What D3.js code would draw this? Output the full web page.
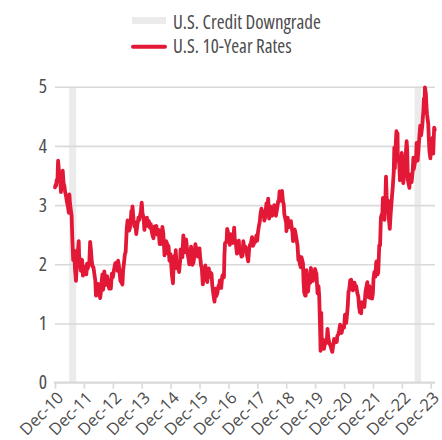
<!DOCTYPE html>
<html>
<head>
<meta charset="utf-8">
<script src="https://cdn.jsdelivr.net/npm/d3@7"></script>
<style>
  body { margin: 0; background: #fff; }
  svg text { font-family: "Open Sans", "DejaVu Sans", sans-serif; font-stretch: 75%; fill: #4d4d4d; }
</style>
</head>
<body>
<div id="chart"></div>
<script>
// --------------- Data ---------------
const legendLabels = ["U.S. Credit Downgrade", "U.S. 10-Year Rates"];
const yTicks = [0, 1, 2, 3, 4, 5];
const xTickYears = [2010, 2011, 2012, 2013, 2014, 2015, 2016, 2017, 2018, 2019, 2020, 2021, 2022, 2023];
const xTickLabels = ["Dec-10", "Dec-11", "Dec-12", "Dec-13", "Dec-14", "Dec-15", "Dec-16",
  "Dec-17", "Dec-18", "Dec-19", "Dec-20", "Dec-21", "Dec-22", "Dec-23"];
const downgradePeriods = [["2011-06-28", "2011-09-25"], ["2023-06-10", "2023-09-01"]];

const rateSeries = [
  ["2010-12-31",3.30],
  ["2011-01-07",3.34],["2011-01-14",3.33],["2011-01-21",3.42],["2011-01-31",3.42],
  ["2011-02-08",3.75],["2011-02-18",3.59],["2011-02-28",3.43],
  ["2011-03-10",3.36],["2011-03-16",3.22],["2011-03-31",3.47],
  ["2011-04-08",3.58],["2011-04-18",3.38],["2011-04-29",3.32],
  ["2011-05-10",3.21],["2011-05-20",3.15],["2011-05-31",3.05],
  ["2011-06-10",2.99],["2011-06-24",2.87],["2011-07-01",3.18],
  ["2011-07-08",3.03],["2011-07-20",2.91],["2011-07-29",2.82],
  ["2011-08-08",2.40],["2011-08-18",2.07],["2011-08-31",2.23],
  ["2011-09-09",1.93],["2011-09-22",1.72],["2011-09-30",1.92],
  ["2011-10-07",2.08],["2011-10-27",2.39],["2011-10-31",2.17],
  ["2011-11-10",2.04],["2011-11-23",1.89],["2011-11-30",2.08],
  ["2011-12-09",2.07],["2011-12-19",1.81],["2011-12-30",1.89],
  ["2012-01-06",1.96],["2012-01-18",1.93],["2012-01-31",1.83],
  ["2012-02-09",2.01],["2012-02-15",1.92],["2012-02-29",1.98],
  ["2012-03-09",2.04],["2012-03-19",2.38],["2012-03-30",2.23],
  ["2012-04-10",2.03],["2012-04-20",1.96],["2012-04-30",1.95],
  ["2012-05-11",1.84],["2012-05-23",1.73],["2012-06-01",1.47],
  ["2012-06-11",1.59],["2012-06-22",1.67],["2012-06-29",1.67],
  ["2012-07-06",1.55],["2012-07-24",1.43],["2012-07-31",1.51],
  ["2012-08-14",1.74],["2012-08-21",1.83],["2012-08-31",1.57],
  ["2012-09-14",1.88],["2012-09-24",1.73],["2012-09-28",1.65],
  ["2012-10-12",1.67],["2012-10-19",1.80],["2012-10-31",1.72],
  ["2012-11-09",1.62],["2012-11-16",1.59],["2012-11-30",1.62],
  ["2012-12-06",1.59],["2012-12-18",1.84],["2012-12-31",1.78],
  ["2013-01-11",1.88],["2013-01-31",2.02],["2013-02-08",1.95],["2013-02-19",2.03],["2013-02-28",1.89],
  ["2013-03-08",2.06],["2013-03-22",1.93],["2013-04-05",1.72],["2013-04-17",1.70],["2013-05-01",1.66],
  ["2013-05-10",1.90],["2013-05-22",2.04],["2013-05-31",2.16],["2013-06-11",2.21],["2013-06-25",2.61],
  ["2013-07-05",2.74],["2013-07-12",2.59],["2013-07-24",2.57],["2013-08-02",2.60],["2013-08-13",2.72],
  ["2013-08-22",2.90],["2013-08-30",2.78],["2013-09-05",2.98],["2013-09-19",2.75],["2013-09-30",2.64],
  ["2013-10-10",2.71],["2013-10-23",2.51],["2013-11-05",2.66],["2013-11-20",2.79],["2013-11-29",2.75],
  ["2013-12-10",2.82],["2013-12-20",2.89],["2013-12-31",3.04],
  ["2014-01-10",2.86],["2014-01-23",2.79],["2014-02-03",2.58],["2014-02-14",2.75],["2014-02-28",2.65],
  ["2014-03-07",2.79],["2014-03-14",2.65],["2014-03-31",2.73],["2014-04-11",2.62],["2014-04-24",2.68],
  ["2014-05-02",2.59],["2014-05-15",2.50],["2014-05-28",2.44],["2014-06-11",2.64],["2014-06-26",2.53],
  ["2014-07-03",2.65],["2014-07-16",2.50],["2014-07-31",2.58],["2014-08-15",2.34],["2014-08-28",2.34],
  ["2014-09-05",2.46],["2014-09-18",2.63],["2014-09-30",2.52],["2014-10-15",2.15],["2014-10-23",2.29],
  ["2014-11-05",2.39],["2014-11-18",2.34],["2014-11-28",2.18],["2014-12-05",2.31],["2014-12-16",2.06],
  ["2014-12-31",2.17],
  ["2015-01-09",1.97],["2015-01-16",1.83],["2015-01-30",1.68],["2015-02-06",1.95],["2015-02-17",2.14],
  ["2015-02-27",2.00],["2015-03-06",2.24],["2015-03-18",1.93],["2015-03-31",1.94],["2015-04-10",1.96],
  ["2015-04-17",1.87],["2015-04-30",2.05],["2015-05-06",2.25],["2015-05-15",2.14],["2015-05-29",2.12],
  ["2015-06-10",2.49],["2015-06-19",2.26],["2015-06-30",2.35],["2015-07-08",2.20],["2015-07-15",2.42],
  ["2015-07-31",2.20],["2015-08-12",2.11],["2015-08-24",2.00],["2015-09-04",2.13],["2015-09-16",2.30],
  ["2015-09-30",2.06],["2015-10-02",1.99],["2015-10-16",2.03],["2015-10-30",2.16],["2015-11-09",2.34],
  ["2015-11-20",2.26],["2015-11-30",2.21],["2015-12-11",2.13],["2015-12-18",2.20],["2015-12-31",2.27],
  ["2016-01-08",2.13],["2016-01-20",1.98],["2016-01-29",1.94],["2016-02-11",1.66],["2016-02-19",1.76],
  ["2016-02-29",1.74],["2016-03-14",1.98],["2016-03-31",1.78],["2016-04-07",1.70],["2016-04-27",1.93],
  ["2016-05-06",1.79],["2016-05-19",1.86],["2016-05-31",1.84],["2016-06-10",1.64],["2016-06-16",1.58],
  ["2016-06-27",1.46],["2016-07-08",1.37],["2016-07-20",1.59],["2016-07-29",1.46],["2016-08-12",1.51],
  ["2016-08-26",1.63],["2016-09-09",1.67],["2016-09-13",1.73],["2016-09-30",1.60],["2016-10-14",1.80],
  ["2016-10-31",1.84],["2016-11-04",1.78],["2016-11-10",2.15],["2016-11-18",2.36],["2016-11-30",2.37],
  ["2016-12-08",2.40],["2016-12-15",2.60],["2016-12-23",2.55],["2016-12-30",2.45],
  ["2017-01-06",2.42],["2017-01-17",2.33],["2017-01-26",2.51],["2017-02-07",2.40],["2017-02-15",2.50],
  ["2017-02-28",2.36],["2017-03-13",2.62],["2017-03-22",2.40],["2017-03-31",2.40],["2017-04-12",2.24],
  ["2017-04-18",2.18],["2017-04-28",2.29],["2017-05-11",2.40],["2017-05-18",2.23],["2017-05-31",2.21],
  ["2017-06-14",2.13],["2017-06-26",2.14],["2017-07-07",2.39],["2017-07-20",2.26],["2017-07-31",2.30],
  ["2017-08-08",2.26],["2017-08-18",2.19],["2017-09-07",2.05],["2017-09-20",2.28],["2017-09-29",2.33],
  ["2017-10-10",2.35],["2017-10-25",2.46],["2017-11-07",2.31],["2017-11-15",2.34],["2017-11-30",2.42],
  ["2017-12-08",2.38],["2017-12-19",2.49],["2017-12-29",2.40],
  ["2018-01-09",2.55],["2018-01-19",2.64],["2018-01-31",2.72],["2018-02-08",2.84],["2018-02-21",2.94],
  ["2018-02-28",2.87],["2018-03-09",2.90],["2018-03-23",2.82],["2018-03-29",2.74],["2018-04-06",2.77],
  ["2018-04-25",3.03],["2018-05-03",2.94],["2018-05-17",3.11],["2018-05-29",2.77],["2018-06-08",2.94],
  ["2018-06-13",2.98],["2018-06-29",2.85],["2018-07-06",2.82],["2018-07-20",2.89],["2018-08-01",3.00],
  ["2018-08-15",2.86],["2018-08-23",2.82],["2018-09-07",2.94],["2018-09-21",3.07],["2018-09-28",3.05],
  ["2018-10-08",3.23],["2018-10-15",3.16],["2018-10-26",3.08],["2018-11-08",3.24],["2018-11-20",3.06],
  ["2018-11-30",3.01],["2018-12-07",2.85],["2018-12-19",2.77],["2018-12-31",2.69],
  ["2019-01-03",2.56],["2019-01-18",2.79],["2019-01-31",2.63],["2019-02-08",2.63],["2019-02-15",2.66],
  ["2019-02-28",2.73],["2019-03-08",2.64],["2019-03-20",2.54],["2019-03-27",2.39],["2019-04-05",2.50],
  ["2019-04-17",2.59],["2019-04-30",2.51],["2019-05-13",2.40],["2019-05-23",2.32],["2019-06-03",2.07],
  ["2019-06-12",2.14],["2019-06-20",2.01],["2019-07-03",1.95],["2019-07-12",2.12],["2019-07-31",2.02],
  ["2019-08-07",1.71],["2019-08-15",1.53],["2019-08-28",1.47],["2019-09-03",1.47],["2019-09-13",1.90],
  ["2019-09-30",1.68],["2019-10-03",1.54],["2019-10-18",1.76],["2019-10-31",1.69],["2019-11-08",1.94],
  ["2019-11-20",1.73],["2019-11-29",1.78],["2019-12-03",1.72],["2019-12-13",1.82],["2019-12-31",1.92],
  ["2020-01-08",1.87],["2020-01-17",1.84],["2020-01-31",1.51],["2020-02-12",1.63],["2020-02-21",1.46],
  ["2020-02-28",1.13],["2020-03-06",0.76],["2020-03-09",0.54],["2020-03-18",1.18],["2020-03-23",0.76],
  ["2020-03-31",0.70],["2020-04-09",0.73],["2020-04-21",0.57],["2020-04-30",0.64],["2020-05-12",0.66],
  ["2020-05-26",0.69],["2020-06-05",0.91],["2020-06-16",0.75],["2020-06-30",0.66],["2020-07-14",0.62],
  ["2020-07-30",0.54],["2020-08-04",0.52],["2020-08-27",0.74],["2020-09-10",0.68],["2020-09-30",0.69],
  ["2020-10-07",0.79],["2020-10-21",0.82],["2020-10-30",0.88],["2020-11-11",0.98],["2020-11-25",0.88],
  ["2020-11-30",0.84],["2020-12-10",0.91],["2020-12-21",0.95],["2020-12-31",0.93],
  ["2021-01-06",1.04],["2021-01-12",1.15],["2021-01-27",1.01],["2021-02-08",1.17],["2021-02-16",1.30],
  ["2021-02-25",1.54],["2021-03-05",1.56],["2021-03-19",1.73],["2021-03-31",1.74],["2021-04-08",1.62],
  ["2021-04-20",1.56],["2021-04-30",1.65],["2021-05-12",1.69],["2021-05-26",1.58],["2021-06-03",1.63],
  ["2021-06-17",1.51],["2021-06-30",1.45],["2021-07-08",1.29],["2021-07-19",1.19],["2021-07-30",1.24],
  ["2021-08-04",1.17],["2021-08-12",1.36],["2021-08-31",1.30],["2021-09-14",1.28],["2021-09-28",1.54],
  ["2021-10-08",1.61],["2021-10-21",1.70],["2021-10-29",1.55],["2021-11-09",1.44],["2021-11-16",1.63],
  ["2021-11-30",1.43],["2021-12-06",1.43],["2021-12-20",1.42],["2021-12-31",1.52],
  ["2022-01-07",1.76],["2022-01-18",1.87],["2022-01-31",1.79],["2022-02-10",2.03],["2022-02-15",2.05],
  ["2022-02-28",1.83],["2022-03-08",1.86],["2022-03-21",2.32],["2022-03-31",2.32],["2022-04-11",2.79],
  ["2022-04-20",2.84],["2022-04-27",2.77],["2022-05-06",3.12],["2022-05-18",2.89],["2022-05-26",2.75],
  ["2022-06-03",2.96],["2022-06-14",3.48],["2022-06-22",3.16],["2022-06-30",2.98],["2022-07-08",3.08],
  ["2022-07-15",2.93],["2022-07-22",2.75],["2022-08-01",2.60],["2022-08-12",2.85],["2022-08-22",3.02],
  ["2022-08-31",3.19],["2022-09-09",3.33],["2022-09-20",3.56],["2022-09-27",3.97],["2022-09-30",3.83],
  ["2022-10-04",3.62],["2022-10-14",4.00],["2022-10-24",4.25],["2022-10-31",4.10],["2022-11-07",4.21],
  ["2022-11-10",3.82],["2022-11-22",3.76],["2022-11-30",3.68],["2022-12-07",3.42],["2022-12-16",3.48],
  ["2022-12-30",3.88],
  ["2023-01-06",3.57],["2023-01-18",3.37],["2023-01-31",3.52],["2023-02-08",3.61],["2023-02-17",3.82],
  ["2023-03-02",4.08],["2023-03-09",3.93],["2023-03-17",3.43],["2023-03-24",3.38],["2023-04-06",3.29],
  ["2023-04-14",3.52],["2023-04-28",3.44],["2023-05-04",3.39],["2023-05-17",3.57],["2023-05-26",3.80],
  ["2023-06-01",3.61],["2023-06-15",3.72],["2023-06-30",3.81],["2023-07-06",4.05],["2023-07-19",3.75],
  ["2023-07-31",3.97],["2023-08-04",4.05],["2023-08-21",4.34],["2023-09-01",4.18],["2023-09-15",4.33],
  ["2023-09-29",4.59],["2023-10-06",4.80],["2023-10-11",4.56],["2023-10-19",4.99],["2023-10-31",4.88],
  ["2023-11-09",4.63],["2023-11-15",4.53],["2023-11-30",4.37],["2023-12-07",4.14],["2023-12-15",3.91],
  ["2023-12-27",3.79],
  ["2024-01-05",4.05],["2024-01-16",4.07],["2024-01-25",4.14],["2024-02-01",3.87],["2024-02-09",4.18],
  ["2024-02-13",4.31],["2024-02-20",4.27]
];

// --------------- Constants ---------------
const WIDTH = 442;
const HEIGHT = 440;
const MARGINS = { top: 86.7, right: 7, bottom: 57.3, left: 55 };
const RED = "#e31837";
const GRID = "#d9d9d9";
const BAND = "#ebebeb";

const parse = d3.timeParse("%Y-%m-%d");
const rates = rateSeries.map(([d, v]) => ({ date: parse(d), value: v }));
const tickDates = xTickYears.map((yr) => new Date(yr, 11, 31));

// --------------- Prep SVG ---------------
const svg = d3
  .select("#chart")
  .append("svg")
  .attr("width", WIDTH)
  .attr("height", HEIGHT);

const x = d3
  .scaleTime()
  .domain([tickDates[0], tickDates[tickDates.length - 1]])
  .range([MARGINS.left, 430.7]);

const y = d3
  .scaleLinear()
  .domain([0, 5])
  .range([HEIGHT - MARGINS.bottom, MARGINS.top]);

const plotRight = WIDTH - MARGINS.right;

// downgrade bands
svg
  .append("g")
  .selectAll("rect")
  .data(downgradePeriods)
  .join("rect")
  .attr("x", (d) => x(parse(d[0])))
  .attr("width", (d) => x(parse(d[1])) - x(parse(d[0])))
  .attr("y", y(5))
  .attr("height", y(0) - y(5))
  .attr("fill", BAND);

// y axis + gridlines
const yAxis = svg
  .append("g")
  .attr("transform", `translate(${plotRight},0)`)
  .call(
    d3.axisLeft(y)
      .tickValues(yTicks)
      .tickSize(plotRight - MARGINS.left)
      .tickPadding(8)
      .tickFormat(d3.format("d"))
  );
yAxis.select(".domain").remove();
yAxis.selectAll(".tick line")
  .attr("stroke", GRID)
  .attr("stroke-width", 1.6)
  .filter((d) => d === 0)
  .remove();
yAxis.selectAll(".tick text")
  .attr("font-size", 19.5)
  .attr("fill", "#4d4d4d");

// x axis
const xAxis = svg
  .append("g")
  .attr("transform", `translate(0,${y(0)})`)
  .call(
    d3.axisBottom(x)
      .tickValues(tickDates)
      .tickSize(6)
      .tickFormat((d, i) => xTickLabels[i])
  );
xAxis.select(".domain").remove();
xAxis
  .append("line")
  .attr("x1", MARGINS.left - 1)
  .attr("x2", plotRight)
  .attr("stroke", GRID)
  .attr("stroke-width", 2.2);
xAxis.selectAll(".tick line").attr("stroke", GRID).attr("stroke-width", 1.6);
xAxis.selectAll(".tick text")
  .attr("font-size", 16.5)
  .style("font-stretch", "90%")
  .attr("fill", "#4d4d4d")
  .attr("text-anchor", "end")
  .attr("y", 0)
  .attr("dy", 0)
  .attr("transform", "translate(9,16) rotate(-45)");

// rate line
const line = d3
  .line()
  .x((d) => x(d.date))
  .y((d) => y(d.value));

svg
  .append("path")
  .datum(rates)
  .attr("d", line)
  .attr("fill", "none")
  .attr("stroke", RED)
  .attr("stroke-width", 3.8)
  .attr("stroke-linejoin", "round")
  .attr("stroke-linecap", "round");

// legend
const legend = svg.append("g");
legend
  .append("rect")
  .attr("x", 132)
  .attr("y", 17)
  .attr("width", 34)
  .attr("height", 7)
  .attr("fill", BAND);
legend
  .append("line")
  .attr("x1", 133)
  .attr("x2", 165)
  .attr("y1", 46.7)
  .attr("y2", 46.7)
  .attr("stroke", RED)
  .attr("stroke-width", 4)
  .attr("stroke-linecap", "round");
legend
  .selectAll("text")
  .data(legendLabels)
  .join("text")
  .attr("x", 173)
  .attr("y", (d, i) => 29.3 + i * 24)
  .attr("font-size", 19)
  .text((d) => d);
</script>
</body>
</html>
